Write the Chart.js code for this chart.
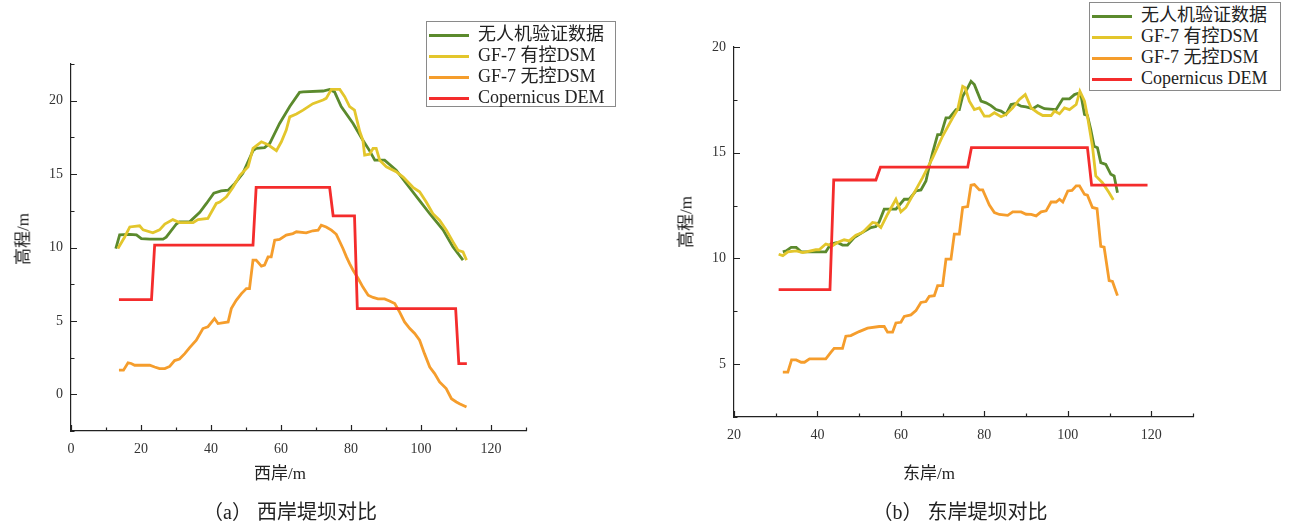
<!DOCTYPE html>
<html lang="zh">
<head>
<meta charset="UTF-8">
<title>堤坝对比</title>
<script src="https://cdn.jsdelivr.net/npm/chart.js@4.4.1/dist/chart.umd.min.js"></script>
<style>
  body { margin:0; background:#fff; width:1290px; height:526px; position:relative; overflow:hidden;
         font-family:'Liberation Serif','Noto Sans CJK SC',serif; color:#222; }
  canvas { position:absolute; top:0; }
  .txt { position:absolute; white-space:nowrap; }
  .ytitle { transform:translate(-50%,-50%) rotate(-90deg); font-size:17px; }
  .xtitle { transform:translate(-50%,-50%); font-size:17px; }
  .cap { transform:translate(-50%,-50%); font-size:20px; }
  .legend { position:absolute; border:1px solid #8a8a8a; background:#fff; font-size:18px; }
  .legend div { height:21px; line-height:21px; position:relative; padding-left:51px; }
  .legend span { position:absolute; left:2px; top:10px; width:40px; height:3px; }
</style>
</head>
<body>
<canvas id="cWest" width="645" height="526" style="left:0"></canvas>
<canvas id="cEast" width="645" height="526" style="left:645px"></canvas>

<div class="txt ytitle" style="left:21px;top:239px">高程/m</div>
<div class="txt xtitle" style="left:280px;top:471px">西岸/m</div>
<div class="txt cap" style="left:290px;top:510px">（a） 西岸堤坝对比</div>

<div class="txt ytitle" style="left:684px;top:222px">高程/m</div>
<div class="txt xtitle" style="left:929px;top:471px">东岸/m</div>
<div class="txt cap" style="left:960px;top:510px">（b） 东岸堤坝对比</div>

<div class="legend" id="lgWest" style="left:426px;top:21px;width:188px;height:84px"></div>
<div class="legend" id="lgEast" style="left:1089px;top:2px;width:190px;height:87px"></div>

<script>
// 图例名称和颜色
var seriesNames = ["无人机验证数据", "GF-7 有控DSM", "GF-7 无控DSM", "Copernicus DEM"];
var seriesColors = ["#5b8a2d", "#e3c62c", "#f59d2c", "#f42c2c"];

// 西岸 (a)
var westUavX = [12.8,13.9,16.8,18.7,20.1,22.5,26.3,27.2,30.1,31,33.9,36.8,38.7,40.8,42.9,44.9,46.8,49.1,52,52.9,55.3,56.8,59.6,62.5,65.3,66.3,72,73.9,75.3,77.2,80.6,83.4,85.3,86.8,89.6,92.9,95.8,99.6,102.5,106.3,109.1,112];
var westUavY = [9.93,10.86,10.9,10.86,10.6,10.57,10.57,10.7,11.6,11.75,11.75,12.4,13,13.7,13.86,13.9,14.36,15.05,16.6,16.75,16.8,17.1,18.45,19.6,20.57,20.6,20.66,20.77,20.6,19.6,18.45,17.3,16.6,15.95,15.95,15.27,14.36,13.2,12.3,11.2,10.05,9.14];
var westCtrlX = [13.4,15.3,16.8,19.6,20.6,23.4,25.3,26.8,29.1,31,34.9,36.3,39.1,41.5,42.5,44.4,46.3,48.2,50.6,52,54.4,56.3,58.7,60.1,61.5,62.5,64.4,66.3,69.1,72,72.9,74.4,76.8,78.2,79.6,81,82.5,83.4,83.9,85.3,86.3,87.2,88.2,90.1,92.9,94.9,97.7,99.6,101.5,103.4,105.3,107.2,109.1,110.6,112,113];
var westCtrlY = [9.93,10.7,11.4,11.48,11.2,11.0,11.2,11.6,11.9,11.7,11.7,11.9,11.98,13,13.1,13.45,14.1,14.9,15.5,16.75,17.2,17,16.6,17.2,18,18.9,19.1,19.36,19.8,20.05,20.16,20.77,20.77,20.27,19.6,19.36,17.9,17.3,16.3,16.36,16.75,16.75,15.95,15.5,15.16,14.8,14.1,13.8,13.1,12.3,11.86,11.2,10.4,9.8,9.7,9.14];
var westFreeX = [13.7,15,16.3,17.2,18.2,22.5,23.9,25.3,26.8,28.2,29.6,31,32.5,33.9,35.8,37.7,39.1,41,42,44.9,45.8,47.2,48.7,50.1,51,52,52.9,54.4,55.3,56.3,57.2,58.2,59.6,61.5,63.4,64.4,67.2,69.1,70.6,71.5,72.9,74.4,75.8,76.8,77.7,78.7,79.6,80.6,82,83.4,84.9,86.3,87.7,89.6,91,92.5,93.9,95.3,96.8,98.2,99.6,101,102.5,103.9,105.3,107.2,108.7,110.1,111,113];
var westFreeY = [1.64,1.64,2.14,2.1,1.98,1.98,1.86,1.75,1.75,1.9,2.3,2.4,2.77,3.18,3.68,4.48,4.6,5.16,4.82,4.93,5.84,6.4,6.86,7.2,7.2,9.14,9.14,8.73,8.8,9.36,9.36,10.5,10.55,10.84,10.95,11.07,11,11.14,11.18,11.52,11.4,11.18,10.9,10.39,9.93,9.36,8.9,8.45,7.9,7.3,6.75,6.6,6.5,6.5,6.36,6.18,5.6,4.93,4.48,4.14,3.68,2.77,1.86,1.41,0.84,0.39,-0.3,-0.52,-0.64,-0.86];
var westDemX = [13.7,23,23.9,52,52.9,73.9,74.9,81,81.8,109.9,110.8,113.1];
var westDemY = [6.45,6.45,10.16,10.16,14.09,14.09,12.16,12.16,5.84,5.84,2.09,2.09];
var westXTicks = [0,20,40,60,80,100,120];
var westXMinor = [10,30,50,70,90,110,130];
var westYTicks = [0,5,10,15,20];
var westYMinor = [-2.5,2.5,7.5,12.5,17.5,22.5];

// 东岸 (b)
var eastUavX = [31.7,32.5,33.7,34.9,36.1,37.3,42,43.2,44.8,46,47.2,48.8,50.8,52.8,54,54.8,56,58.8,60.8,62,63.6,64.8,66,66.8,67.6,68.8,69.6,70.8,71.6,73.2,74,74.8,76,76.8,77.6,78.4,79.2,80.4,81.6,82.8,84,85.2,86.4,87.6,88.8,90,91.6,92.8,94.4,97.2,98.8,100.4,101.6,102.3,103.2,104,104.7,105.5,106.3,107.1,107.9,109.1,110.3,111.1,111.9];
var eastUavY = [10.31,10.36,10.52,10.52,10.31,10.31,10.31,10.68,10.75,10.63,10.63,10.99,11.23,11.46,11.51,11.73,12.33,12.33,12.8,12.8,13.19,13.24,13.66,14.37,15,15.86,15.86,16.65,16.65,17.04,17.04,17.67,18.07,18.38,18.22,17.83,17.44,17.36,17.23,17.04,16.97,16.81,17.28,17.33,17.2,17.17,17.08,17.23,17.08,17.04,17.55,17.55,17.75,17.8,17.67,16.81,16.76,16.1,15.31,15.24,14.53,14.45,13.98,13.9,13.11];
var eastCtrlX = [30.7,31.7,32.9,34.9,36.5,39.6,40.4,42,43.6,44.8,46.4,47.6,49.2,50.8,53.2,54,55.2,56.8,58.8,60,61.2,63.2,65.2,67.6,70,72.4,73.6,74.8,75.4,76.4,77.6,78.8,80,81.2,82.4,84,85.2,86.8,88.4,89.8,91.2,92.8,94,96,96.8,98,99.2,100.4,102,102.9,104,104.7,105.9,106.7,108.3,109.9,110.9];
var eastCtrlY = [10.2,10.13,10.31,10.36,10.28,10.41,10.41,10.68,10.6,10.75,10.88,10.83,11.1,11.23,11.7,11.67,11.46,12.09,12.8,12.2,12.41,13.11,13.82,14.76,15.79,16.65,17.04,18.14,18.07,17.44,17.04,17.12,16.73,16.73,16.89,16.7,16.81,17.12,17.52,17.75,17.12,16.89,16.76,16.76,16.97,16.84,17.12,17.04,17.28,17.91,17.44,16.73,15.31,13.9,13.58,13.11,12.77];
var eastFreeX = [31.7,32.9,33.8,34.9,36.1,36.9,38.1,42,43.2,44,46,46.8,48,50,52,54.8,56,56.8,58,58.8,60,60.8,62.4,63.6,64.8,66,66.8,68,68.8,70,70.8,72,72.8,74,74.8,76,76.8,77.6,78.8,79.6,80.4,81.2,82.4,83.6,85.6,86.8,88.8,90,91.2,92.4,93.6,94.8,96,97.2,98,98.8,100,101,102,102.8,104,104.7,105.9,107,107.9,108.7,109.9,110.7,111.9];
var eastFreeY = [4.62,4.62,5.2,5.2,5.09,5.09,5.25,5.25,5.56,5.75,5.75,6.32,6.35,6.54,6.7,6.78,6.78,6.51,6.51,6.95,6.98,7.26,7.33,7.53,7.92,7.96,8.21,8.24,8.71,8.71,9.97,9.97,11.15,11.15,12.41,12.45,13.46,13.49,13.24,13.24,12.88,12.52,12.17,12.08,12.04,12.2,12.2,12.09,12.08,12.01,12.2,12.25,12.67,12.67,12.8,12.67,13.19,13.22,13.43,13.43,13.03,12.99,12.41,12.36,10.57,10.53,8.95,8.91,8.24];
var eastDemX = [30.7,43,43.9,54,55.1,76,76.9,104.7,105.7,119.1];
var eastDemY = [8.52,8.52,13.71,13.71,14.32,14.32,15.24,15.24,13.47,13.47];
var eastXTicks = [20,40,60,80,100,120];
var eastXMinor = [30,50,70,90,110,130];
var eastYTicks = [5,10,15,20];
var eastYMinor = [2.5,7.5,12.5,17.5];

var f_pts = function(p_x, p_y){
    var v_arr = [];
    for(var i=0; i<p_x.length; i++){
        v_arr.push({x:p_x[i], y:p_y[i]});
    }
    return v_arr;
}

var f_sets = function(p_list){
    var v_sets = [];
    for(var i=0; i<p_list.length; i++){
        v_sets.push({
            label: seriesNames[i],
            data: f_pts(p_list[i][0], p_list[i][1]),
            borderColor: seriesColors[i],
            borderWidth: 2.8,
            pointRadius: 0,
            tension: 0,
            fill: false,
            order: 3 - i
        });
    }
    return v_sets;
}

// 안쪽으로 향하는 눈금 (inward ticks)
var inTicks = {
    id: 'inTicks',
    afterDraw: function(chart, args, opts){
        var c = chart.ctx, xs = chart.scales.x, ys = chart.scales.y;
        var a = chart.chartArea;
        c.save();
        c.strokeStyle = '#222';
        c.lineWidth = 1.2;
        c.beginPath();
        opts.xMajor.forEach(function(v){ var p = Math.round(xs.getPixelForValue(v)) + 0.5; c.moveTo(p, a.bottom); c.lineTo(p, a.bottom - 6); });
        opts.xMinor.forEach(function(v){ var p = Math.round(xs.getPixelForValue(v)) + 0.5; c.moveTo(p, a.bottom); c.lineTo(p, a.bottom - 3.5); });
        opts.yMajor.forEach(function(v){ var p = Math.round(ys.getPixelForValue(v)) + 0.5; c.moveTo(a.left, p); c.lineTo(a.left + 6, p); });
        opts.yMinor.forEach(function(v){ var p = Math.round(ys.getPixelForValue(v)) + 0.5; c.moveTo(a.left, p); c.lineTo(a.left + 3.5, p); });
        c.stroke();
        c.restore();
    }
};

var f_chart = function(p_id, p_sets, p_cfg){
    var v_font = { family: "'Liberation Serif','Noto Sans CJK SC',serif", size: 14 };
    return new Chart(document.getElementById(p_id).getContext('2d'), {
        type: 'line',
        data: { datasets: p_sets },
        options: {
            responsive: false,
            animation: false,
            layout: { padding: p_cfg.pad },
            plugins: {
                legend: { display: false },
                tooltip: { enabled: false },
                inTicks: { xMajor: p_cfg.xt, xMinor: p_cfg.xm, yMajor: p_cfg.yt, yMinor: p_cfg.ym }
            },
            scales: {
                x: {
                    type: 'linear', min: p_cfg.xmin, max: 130,
                    grid: { display: false, drawTicks: false },
                    border: { display: true, color: '#222', width: 1.2 },
                    ticks: { color: '#333', font: v_font, padding: 10, maxRotation: 0 },
                    afterBuildTicks: function(s){ s.ticks = p_cfg.xt.map(function(v){ return {value:v}; }); },
                    afterFit: function(s){ s.height = p_cfg.xh; }
                },
                y: {
                    type: 'linear', min: p_cfg.ymin, max: p_cfg.ymax,
                    grid: { display: false, drawTicks: false },
                    border: { display: true, color: '#222', width: 1.2 },
                    ticks: { color: '#333', font: v_font, padding: p_cfg.ypad },
                    afterBuildTicks: function(s){ s.ticks = p_cfg.yt.map(function(v){ return {value:v}; }); },
                    afterFit: function(s){ s.width = p_cfg.yw; }
                }
            }
        },
        plugins: [inTicks]
    });
}

f_chart('cWest', f_sets([[westUavX,westUavY],[westCtrlX,westCtrlY],[westFreeX,westFreeY],[westDemX,westDemY]]), {
    pad: { left:0, top:64, right:119, bottom:0 },
    xmin: 0, ymin: -2.5, ymax: 22.5, xh: 95, yw: 71, ypad: 8,
    xt: westXTicks, xm: westXMinor, yt: westYTicks, ym: westYMinor
});

f_chart('cEast', f_sets([[eastUavX,eastUavY],[eastCtrlX,eastCtrlY],[eastFreeX,eastFreeY],[eastDemX,eastDemY]]), {
    pad: { left:0, top:47, right:97, bottom:0 },
    xmin: 20, ymin: 2.5, ymax: 20, xh: 109, yw: 89, ypad: 8,
    xt: eastXTicks, xm: eastXMinor, yt: eastYTicks, ym: eastYMinor
});

// 범례 (legend)
['lgWest','lgEast'].forEach(function(id){
    var v_box = document.getElementById(id);
    var v_html = '<div style="height:2px"></div>';
    for(var i=0; i<seriesNames.length; i++){
        v_html += '<div><span style="background:' + seriesColors[i] + '"></span>' + seriesNames[i] + '</div>';
    }
    v_box.innerHTML = v_html;
});
</script>
</body>
</html>
